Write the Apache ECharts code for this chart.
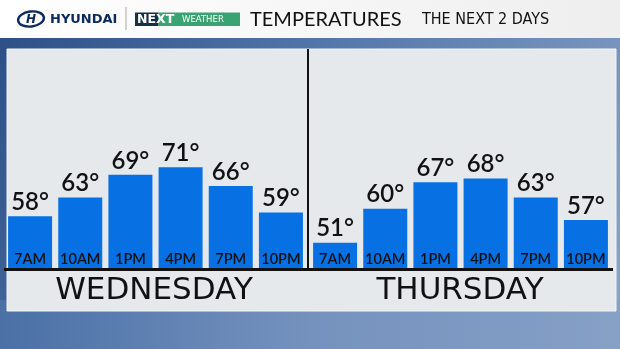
<!DOCTYPE html>
<html>
<head>
<meta charset="utf-8">
<script src="https://cdn.jsdelivr.net/npm/echarts@6/dist/echarts.min.js"></script>
<style>html,body{margin:0;padding:0;background:#fff;}#c{width:620px;height:349px;}</style>
</head>
<body>
<div id="c"></div>
<script>
const hours = ['7AM', '10AM', '1PM', '4PM', '7PM', '10PM'];
const wednesdayTemps = [58, 63, 69, 71, 66, 59];
const thursdayTemps = [51, 60, 67, 68, 63, 57];
const dayNames = ['WEDNESDAY', 'THURSDAY'];
const titleText = 'TEMPERATURES';
const subtitleText = 'THE NEXT 2 DAYS';

const chart = echarts.init(document.getElementById('c'), null, {renderer: 'canvas'});
const barColor = '#0770e2';
const ink = '#111111';

function barSeries(idx, data) {
  return {
    type: 'bar', xAxisIndex: idx, yAxisIndex: idx, data: data,
    barWidth: 44,
    itemStyle: {color: barColor},
    label: {show: true, position: 'top', distance: 2, formatter: '{c}°',
      fontSize: 24, fontWeight: 600, fontFamily: 'Lato', color: ink}
  };
}
function xAx(idx) {
  return {type: 'category', gridIndex: idx, data: hours, z: 10,
    axisLine: {show: false}, axisTick: {show: false},
    axisLabel: {inside: true, interval: 0, hideOverlap: false, margin: 2, color: ink,
      fontSize: 14.5, fontWeight: 600, fontFamily: 'Lato'}};
}
function yAx(idx) {
  return {type: 'value', gridIndex: idx, min: 44, max: 100, show: false, splitLine: {show: false}};
}

chart.setOption({
  animation: false,
  grid: [
    {left: 5, width: 301, top: 58, bottom: 80},
    {left: 310, width: 301, top: 58, bottom: 80}
  ],
  xAxis: [xAx(0), xAx(1)],
  yAxis: [yAx(0), yAx(1)],
  series: [barSeries(0, wednesdayTemps), barSeries(1, thursdayTemps)],
  graphic: {elements: [
    {type: 'rect', z: -20, shape: {x: 0, y: 0, width: 620, height: 349},
      style: {fill: new echarts.graphic.LinearGradient(0, 0, 1, 1, [
        {offset: 0, color: '#2a4d86'}, {offset: 0.45, color: '#5678ab'}, {offset: 1, color: '#8ea6c8'}])}},
    {type: 'rect', z: -19, shape: {x: 0, y: 300, width: 620, height: 49},
      style: {fill: new echarts.graphic.LinearGradient(0, 0, 1, 0, [
        {offset: 0, color: '#4a70a6'}, {offset: 0.5, color: '#7592be'}, {offset: 1, color: '#86a0c6'}])}},
    {type: 'rect', z: -18, shape: {x: 0, y: 0, width: 620, height: 38},
      style: {fill: new echarts.graphic.LinearGradient(0, 0, 1, 0, [
        {offset: 0, color: '#ffffff'}, {offset: 1, color: '#eeeeee'}])}},
    {type: 'rect', z: -17, shape: {x: 7, y: 49, width: 609, height: 262},
      style: {fill: '#e6e9ec', stroke: '#f3f5f7', lineWidth: 1}},
    {type: 'rect', z: 50, shape: {x: 307, y: 49, width: 2, height: 221}, style: {fill: ink}},
    {type: 'rect', z: 50, shape: {x: 4, y: 268, width: 609, height: 3}, style: {fill: ink}},
    // header
    {type: 'ellipse', z: 50, rotation: 0.12, originX: 31, originY: 19,
      shape: {cx: 31, cy: 19, rx: 13, ry: 7.5}, style: {fill: 'none', stroke: '#0b2b5f', lineWidth: 2.4}},
    {type: 'text', z: 50, style: {x: 31, y: 19.5, text: 'H', fontSize: 12, fontWeight: 'bold', fontStyle: 'italic',
      fontFamily: 'DejaVu Sans', fill: '#0b2b5f', align: 'center', verticalAlign: 'middle'}},
    {type: 'text', z: 50, style: {x: 50, y: 19.5, text: 'HYUNDAI', fontSize: 13, fontWeight: 'bold',
      fontFamily: 'DejaVu Sans', fill: '#0b2b5f', align: 'left', verticalAlign: 'middle'}},
    {type: 'rect', z: 50, shape: {x: 125.5, y: 7, width: 1, height: 23}, style: {fill: '#a8a8a8'}},
    {type: 'rect', z: 50, shape: {x: 135, y: 12.5, width: 23, height: 13.5}, style: {fill: '#173047'}},
    {type: 'rect', z: 50, shape: {x: 158, y: 12.5, width: 82, height: 13.5}, style: {fill: '#3aa372'}},
    {type: 'text', z: 51, style: {x: 137, y: 19.5, text: 'NEXT', fontSize: 12.5, fontWeight: 'bold',
      fontFamily: 'DejaVu Sans', fill: '#ffffff', align: 'left', verticalAlign: 'middle'}},
    {type: 'text', z: 51, style: {x: 182, y: 19.8, text: 'WEATHER', fontSize: 8.5,
      fontFamily: 'DejaVu Sans', fill: '#ffffff', align: 'left', verticalAlign: 'middle'}},
    {type: 'text', z: 50, style: {x: 250, y: 19.5, text: titleText, fontSize: 20,
      fontFamily: 'Lato', fill: ink, align: 'left', verticalAlign: 'middle'}},
    {type: 'text', z: 50, style: {x: 422, y: 19.5, text: subtitleText, fontSize: 16,
      fontFamily: '"Liberation Sans Narrow","DejaVu Sans Condensed",sans-serif', fill: ink, align: 'left', verticalAlign: 'middle'}},
    // day names
    {type: 'text', z: 50, style: {x: 154, y: 291, text: dayNames[0], fontSize: 31,
      fontFamily: 'DejaVu Sans', fill: ink, align: 'center', verticalAlign: 'middle'}},
    {type: 'text', z: 50, style: {x: 460, y: 291, text: dayNames[1], fontSize: 31,
      fontFamily: 'DejaVu Sans', fill: ink, align: 'center', verticalAlign: 'middle'}}
  ]}
});
</script>
</body>
</html>
